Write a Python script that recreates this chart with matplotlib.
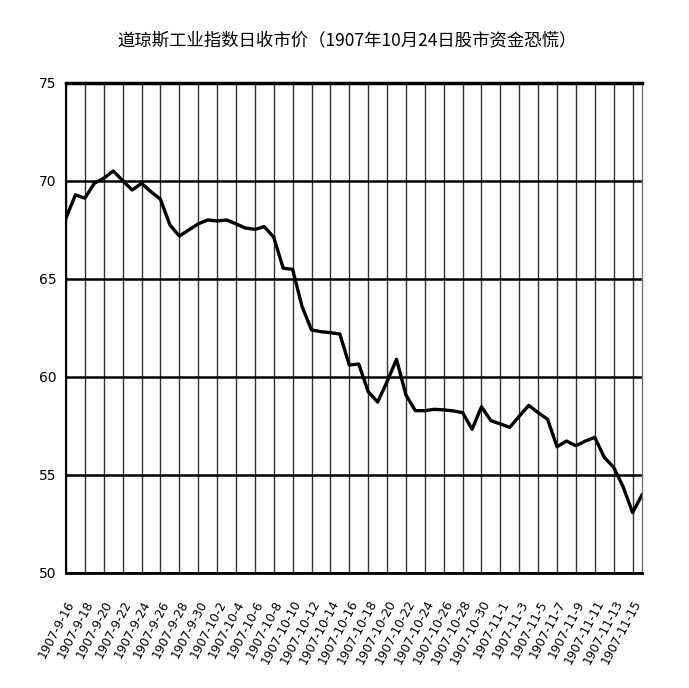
import datetime
import matplotlib
matplotlib.use('Agg')
import matplotlib.pyplot as plt

# 1907-9-16 .. 1907-11-16, one value per day
start = datetime.date(1907, 9, 16)
days = [start + datetime.timedelta(days=i) for i in range(62)]
dates = ['1907-%d-%d' % (d.month, d.day) for d in days]

close = [68.11, 69.29, 69.12, 69.88, 70.14, 70.51, 70.02, 69.54, 69.88, 69.45,
         69.07, 67.76, 67.19, 67.50, 67.81, 68.01, 67.96, 68.01, 67.81, 67.60,
         67.53, 67.67, 67.13, 65.55, 65.49, 63.59, 62.40, 62.31, 62.26, 62.19,
         60.61, 60.66, 59.25, 58.72, 59.76, 60.90, 59.08, 58.28, 58.28, 58.35,
         58.32, 58.27, 58.18, 57.33, 58.48, 57.77, 57.60, 57.43, 58.00, 58.55,
         58.18, 57.84, 56.44, 56.73, 56.49, 56.73, 56.92, 55.90, 55.39, 54.40,
         53.08, 53.98]

yticks = [50, 55, 60, 65, 70, 75]

title = '道琼斯工业指数日收市价（1907年10月24日股市资金恐慌）'

fig = plt.figure(figsize=(6.89, 6.88), dpi=100)
ax = fig.add_axes([0.0958, 0.1672, 0.836, 0.7122])

x = list(range(len(close)))
ax.plot(x, close, color='black', linewidth=2.4, zorder=3)

ax.set_xlim(0, len(close) - 1)
ax.set_ylim(50, 75)

tick_pos = list(range(0, len(close), 2))
ax.set_xticks(tick_pos)
ax.set_xticklabels([dates[i] for i in tick_pos], rotation=62, ha='right', va='top',
                   rotation_mode='anchor', fontsize=8.8)
ax.set_yticks(yticks)
ax.set_yticklabels([str(v) for v in yticks], fontsize=10)
ax.tick_params(axis='both', length=0)
ax.tick_params(axis='x', pad=18)
ax.tick_params(axis='y', pad=7)

# 竖线细, 横线粗
for p in tick_pos:
    ax.axvline(p, color='#333333', linewidth=1.0, zorder=1)
for v in yticks:
    ax.axhline(v, color='black', linewidth=1.8, zorder=2)

ax.spines['left'].set_linewidth(1.5)
ax.spines['bottom'].set_linewidth(2)
ax.spines['top'].set_linewidth(2.5)
ax.spines['right'].set_color('#777777')
ax.spines['right'].set_linewidth(1)

fig.text(0.504, 0.942, title, ha='center', va='center', fontsize=12.5,
         family=['Noto Sans CJK SC', 'DejaVu Sans'])

fig.savefig('out.png', dpi=100)
